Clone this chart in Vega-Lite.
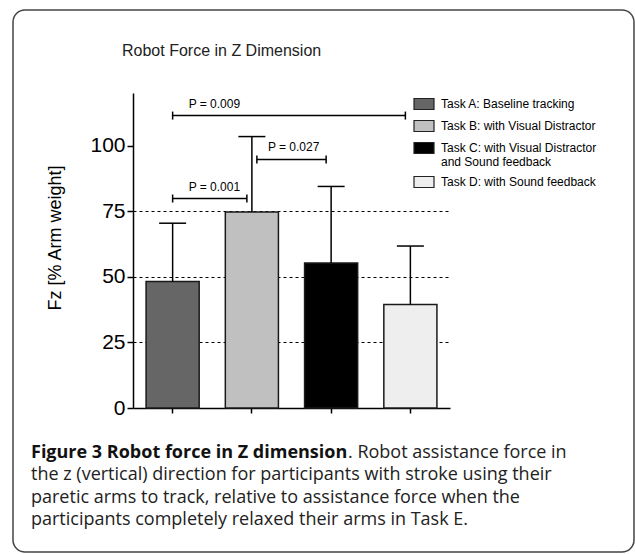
{
  "$schema": "https://vega.github.io/schema/vega-lite/v6.json",
  "width": 621,
  "height": 542,
  "autosize": {"type": "none"},
  "padding": {"left": 13, "top": 10, "right": 1, "bottom": 2},
  "background": "white",
  "config": {
    "view": {"stroke": "#444444", "strokeWidth": 1.5, "cornerRadius": 12, "fill": "white"},
    "font": "Liberation Sans"
  },
  "title": {
    "text": "Robot Force in Z Dimension",
    "anchor": "start",
    "frame": "group",
    "orient": "top",
    "offset": -57,
    "dx": 109,
    "baseline": "middle",
    "font": "Liberation Sans",
    "fontSize": 16,
    "fontWeight": "normal",
    "color": "#222222"
  },
  "datasets": {
    "bars": [
      {"task": "A", "name": "Task A: Baseline tracking", "mean": 48.2, "upper": 70.4},
      {"task": "B", "name": "Task B: with Visual Distractor", "mean": 74.7, "upper": 103.4},
      {"task": "C", "name": "Task C: with Visual Distractor and Sound feedback", "mean": 55.2, "upper": 84.4},
      {"task": "D", "name": "Task D: with Sound feedback", "mean": 39.4, "upper": 61.7}
    ],
    "pvals": [
      {"p": "P = 0.009", "from": "A", "to": "D", "ybr": 111.4},
      {"p": "P = 0.001", "from": "A", "to": "B", "ybr": 79.8},
      {"p": "P = 0.027", "from": "B", "to": "C", "ybr": 94.7}
    ],
    "caption": [
      {"line": 1, "part": "bold", "text": "Figure 3 Robot force in Z dimension"},
      {"line": 1, "part": "lead", "text": ". Robot assistance force in"},
      {"line": 2, "part": "body", "text": "the z (vertical) direction for participants with stroke using their"},
      {"line": 3, "part": "body", "text": "paretic arms to track, relative to assistance force when the"},
      {"line": 4, "part": "body", "text": "participants completely relaxed their arms in Task E."}
    ]
  },
  "layer": [
    {
      "layer": [
        {
          "data": {"name": "bars"},
          "mark": {"type": "bar", "stroke": "#1a1a1a", "strokeWidth": 1.5},
          "encoding": {
            "x": {
              "field": "task", "type": "nominal",
              "scale": {"domain": ["A", "B", "C", "D"], "range": [120, 437], "paddingInner": 0.33, "paddingOuter": 0.165},
              "axis": {"labels": false, "title": null, "offset": -144, "domainColor": "black", "domainWidth": 1.5, "tickColor": "black", "tickWidth": 1.5, "tickSize": 5, "grid": false}
            },
            "y": {
              "field": "mean", "type": "quantitative",
              "title": "Fz [% Arm weight]",
              "scale": {"domain": [0, 120], "range": [398, 83], "nice": false, "zero": true},
              "axis": {
                "values": [0, 25, 50, 75, 100],
                "offset": -120,
                "domainColor": "black", "domainWidth": 1.5,
                "tickColor": "black", "tickWidth": 1.5, "tickSize": 6,
                "labelFont": "Liberation Sans", "labelFontSize": 21, "labelColor": "black", "labelPadding": 2,
                "grid": true, "gridColor": "black", "gridDash": [3, 3], "gridWidth": 1.2,
                "gridOpacity": {"condition": {"test": "datum.value > 0 && datum.value < 100", "value": 1}, "value": 0},
                "titleFont": "Liberation Sans", "titleFontSize": 18, "titleFontWeight": "normal", "titleColor": "black",
                "titleX": -78, "titleY": 227.5, "titleAngle": -90, "titleBaseline": "middle", "titleAlign": "center"
              }
            },
            "color": {
              "field": "name", "type": "nominal",
              "scale": {
                "domain": ["Task A: Baseline tracking", "Task B: with Visual Distractor", "Task C: with Visual Distractor and Sound feedback", "Task D: with Sound feedback"],
                "range": ["#666666", "#c0c0c0", "#000000", "#eeeeee"]
              },
              "legend": {
                "title": null,
                "orient": "none",
                "legendX": 400,
                "legendY": 83,
                "padding": 0,
                "symbolType": "M-1,-0.55L1,-0.55L1,0.55L-1,0.55Z",
                "symbolSize": 400,
                "symbolStrokeColor": "#222222",
                "symbolStrokeWidth": 1.2,
                "symbolOpacity": 1,
                "labelFont": "Liberation Sans",
                "labelFontSize": 12,
                "labelColor": "black",
                "labelOffset": 6,
                "labelLimit": 400,
                "rowPadding": 3,
                "labelExpr": "datum.label == 'Task C: with Visual Distractor and Sound feedback' ? ['Task C: with Visual Distractor', 'and Sound feedback'] : datum.label"
              }
            }
          }
        },
        {
          "data": {"name": "bars"},
          "mark": {"type": "rule", "stroke": "black", "strokeWidth": 1.5},
          "encoding": {
            "x": {"field": "task", "type": "nominal"},
            "y": {"field": "mean", "type": "quantitative", "title": "Fz [% Arm weight]"},
            "y2": {"field": "upper"}
          }
        },
        {
          "data": {"name": "bars"},
          "mark": {"type": "tick", "color": "black", "size": 27, "thickness": 1.5, "opacity": 1},
          "encoding": {
            "x": {"field": "task", "type": "nominal"},
            "y": {"field": "upper", "type": "quantitative", "title": "Fz [% Arm weight]"}
          }
        },
        {
          "data": {"name": "pvals"},
          "mark": {"type": "rule", "stroke": "black", "strokeWidth": 1.5, "xOffset": {"expr": "datum.p == 'P = 0.027' ? 5 : 0"}, "x2Offset": -5},
          "encoding": {
            "x": {"field": "from", "type": "nominal"},
            "x2": {"field": "to"},
            "y": {"field": "ybr", "type": "quantitative", "title": "Fz [% Arm weight]"}
          }
        },
        {
          "data": {"name": "pvals"},
          "mark": {"type": "rule", "stroke": "black", "strokeWidth": 1.5, "xOffset": {"expr": "datum.p == 'P = 0.027' ? 5 : 0"}, "yOffset": -4, "y2Offset": 4},
          "encoding": {
            "x": {"field": "from", "type": "nominal"},
            "y": {"field": "ybr", "type": "quantitative", "title": "Fz [% Arm weight]"},
            "y2": {"field": "ybr"}
          }
        },
        {
          "data": {"name": "pvals"},
          "mark": {"type": "rule", "stroke": "black", "strokeWidth": 1.5, "xOffset": -5, "yOffset": -4, "y2Offset": 4},
          "encoding": {
            "x": {"field": "to", "type": "nominal"},
            "y": {"field": "ybr", "type": "quantitative", "title": "Fz [% Arm weight]"},
            "y2": {"field": "ybr"}
          }
        },
        {
          "data": {"name": "pvals"},
          "mark": {"type": "text", "align": "left", "baseline": "middle", "dx": 16, "dy": -12, "font": "Liberation Sans", "fontSize": 12, "color": "black"},
          "encoding": {
            "x": {"field": "from", "type": "nominal"},
            "y": {"field": "ybr", "type": "quantitative", "title": "Fz [% Arm weight]"},
            "text": {"field": "p"}
          }
        }
      ]
    },
    {
      "data": {"name": "caption"},
      "layer": [
        {
          "transform": [{"filter": "datum.part == 'bold'"}],
          "mark": {"type": "text", "align": "left", "baseline": "middle", "font": "Open Sans", "fontSize": 18, "fontWeight": "bold", "color": "#111111"}
        },
        {
          "transform": [{"filter": "datum.part == 'lead'"}],
          "mark": {"type": "text", "align": "left", "baseline": "middle", "dx": 317, "font": "Open Sans", "fontSize": 18, "color": "#222222"}
        },
        {
          "transform": [{"filter": "datum.part == 'body'"}],
          "mark": {"type": "text", "align": "left", "baseline": "middle", "font": "Open Sans", "fontSize": 18, "color": "#222222"}
        }
      ],
      "encoding": {
        "x": {"datum": 0, "type": "quantitative", "scale": {"domain": [0, 1], "range": [18, 600]}, "axis": null},
        "y": {"field": "line", "type": "quantitative", "scale": {"domain": [1, 4], "range": [443, 510]}, "axis": null},
        "text": {"field": "text"}
      }
    }
  ],
  "resolve": {"scale": {"x": "independent", "y": "independent"}}
}
